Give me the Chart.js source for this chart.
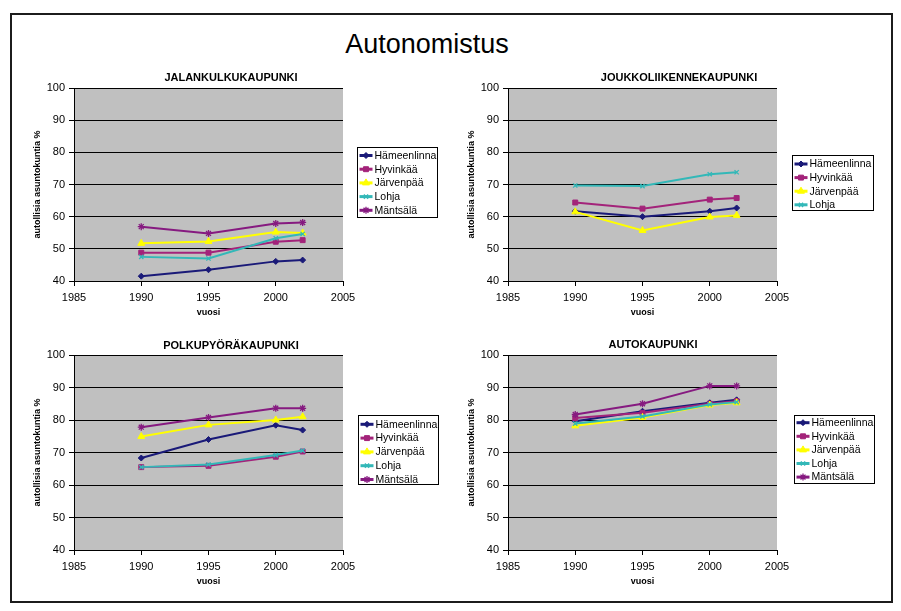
<!DOCTYPE html>
<html>
<head>
<meta charset="utf-8">
<script src="https://cdn.jsdelivr.net/npm/chart.js@4.4.1/dist/chart.umd.min.js"></script>
<style>
  html, body { margin: 0; padding: 0; background: #fff; }
  body { width: 901px; height: 611px; position: relative; overflow: hidden; font-family: "Liberation Sans", Arial, sans-serif; }
  #frame { position: absolute; left: 10px; top: 13px; width: 883px; height: 590px; box-sizing: border-box; border: 2px solid #1c1c1c; }
  #maintitle { position: absolute; left: 0; top: 29px; width: 854px; text-align: center; font-size: 27px; line-height: 30px; color: #000; }
  canvas { position: absolute; left: 0; top: 0; }
</style>
</head>
<body>
<div id="frame"></div>
<div id="maintitle">Autonomistus</div>
<canvas id="c1" width="901" height="611"></canvas>
<canvas id="c2" width="901" height="611"></canvas>
<canvas id="c3" width="901" height="611"></canvas>
<canvas id="c4" width="901" height="611"></canvas>
<script>
// ---------- DATA ----------
const years = [1990, 1995, 2000, 2002];
const cities = ['Hämeenlinna', 'Hyvinkää', 'Järvenpää', 'Lohja', 'Mäntsälä'];
const xTickLabels = [1985, 1990, 1995, 2000, 2005];
const yTickLabels = [40, 50, 60, 70, 80, 90, 100];

const titles = ['JALANKULKUKAUPUNKI', 'JOUKKOLIIKENNEKAUPUNKI', 'POLKUPYÖRÄKAUPUNKI', 'AUTOKAUPUNKI'];
const yAxisTitle = 'autollisia asuntokuntia %';
const xAxisTitle = 'vuosi';

// JALANKULKUKAUPUNKI
const jalHameenlinna = [41.5, 43.5, 46.1, 46.5];
const jalHyvinkaa    = [48.8, 48.8, 52.2, 52.7];
const jalJarvenpaa   = [51.7, 52.3, 55.2, 54.9];
const jalLohja       = [47.5, 47.0, 53.3, 54.6];
const jalMantsala    = [56.9, 54.8, 57.9, 58.2];
// JOUKKOLIIKENNEKAUPUNKI
const jouHameenlinna = [61.7, 60.0, 61.7, 62.7];
const jouHyvinkaa    = [64.4, 62.5, 65.3, 65.8];
const jouJarvenpaa   = [61.5, 55.7, 59.9, 60.4];
const jouLohja       = [69.7, 69.5, 73.2, 73.8];
// POLKUPYÖRÄKAUPUNKI
const polHameenlinna = [68.3, 74.0, 78.4, 76.9];
const polHyvinkaa    = [65.5, 65.9, 68.7, 70.3];
const polJarvenpaa   = [74.9, 78.5, 80.0, 81.0];
const polLohja       = [65.5, 66.3, 69.2, 70.6];
const polMantsala    = [77.8, 80.8, 83.6, 83.6];
// AUTOKAUPUNKI
const autHameenlinna = [79.6, 82.7, 85.3, 86.2];
const autHyvinkaa    = [80.6, 82.2, 85.0, 85.8];
const autJarvenpaa   = [78.2, 80.8, 84.6, 85.3];
const autLohja       = [78.9, 81.1, 84.8, 85.5];
const autMantsala    = [81.7, 85.0, 90.5, 90.5];

// ---------- STYLE ----------
const seriesStyle = [
  { color: '#1a1a78', point: 'rectRot',  radius: 3,   pbw: 1 },
  { color: '#a3237a', point: 'rect',     radius: 3.5, pbw: 1 },
  { color: '#ffff00', point: 'triangle', radius: 4,   pbw: 1 },
  { color: '#33b8b8', point: 'crossRot', radius: 3,   pbw: 1.3 },
  { color: '#861a80', point: 'star',     radius: 3.5, pbw: 1.3 }
];
const FONT = '"Liberation Sans", Arial, sans-serif';

function makeDatasets(seriesList) {
  return seriesList.map((vals, i) => {
    const s = seriesStyle[i];
    return {
      label: cities[i],
      data: years.map((y, k) => ({ x: y, y: vals[k] })),
      borderColor: s.color,
      backgroundColor: s.color,
      borderWidth: 2,
      pointStyle: s.point,
      pointRadius: s.radius,
      pointBorderWidth: s.pbw,
      pointBorderColor: s.color,
      pointBackgroundColor: s.color,
      tension: 0,
      order: -i
    };
  });
}

const panelPlugin = {
  id: 'panelDeco',
  beforeDraw(chart) {
    const a = chart.chartArea, ctx = chart.ctx;
    ctx.save();
    ctx.fillStyle = '#c0c0c0';
    ctx.fillRect(a.left, a.top, a.right - a.left, a.bottom - a.top);
    ctx.restore();
  },
  afterDraw(chart) {
    const o = chart.options.plugins.panelDeco;
    const ctx = chart.ctx;
    ctx.save();
    // panel title
    ctx.font = 'bold 11px ' + FONT;
    ctx.fillStyle = '#000';
    ctx.textAlign = 'center';
    ctx.textBaseline = 'middle';
    ctx.fillText(o.title, o.titleX, o.titleY);
    // legend
    const L = o.legend;
    ctx.fillStyle = '#fff';
    ctx.fillRect(L.x, L.y, L.w, L.h);
    ctx.strokeStyle = '#000';
    ctx.lineWidth = 1;
    ctx.strokeRect(L.x + 0.5, L.y + 0.5, L.w, L.h);
    chart.data.datasets.forEach((ds, i) => {
      const s = seriesStyle[i];
      const yy = L.row0 + i * L.step;
      ctx.strokeStyle = s.color;
      ctx.lineWidth = 3;
      ctx.beginPath();
      ctx.moveTo(L.x + 2.5, yy);
      ctx.lineTo(L.x + 15.5, yy);
      ctx.stroke();
      ctx.fillStyle = s.color;
      ctx.strokeStyle = s.color;
      ctx.lineWidth = s.pbw;
      Chart.helpers.drawPoint(ctx, { pointStyle: s.point, radius: s.radius, borderWidth: s.pbw }, L.x + 9, yy);
      ctx.fillStyle = '#000';
      ctx.font = '10.5px ' + FONT;
      ctx.textAlign = 'left';
      ctx.textBaseline = 'middle';
      ctx.fillText(ds.label, L.x + 17.5, yy + 0.5);
    });
    ctx.restore();
  }
};

function makeChart(id, seriesList, area, deco) {
  const W = 901, H = 611;
  const yW = 50, xH = 38;
  return new Chart(document.getElementById(id), {
    type: 'line',
    data: { datasets: makeDatasets(seriesList) },
    plugins: [panelPlugin],
    options: {
      responsive: false,
      animation: false,
      events: [],
      layout: {
        padding: { left: area.left - yW, right: W - area.right, top: area.top, bottom: H - area.bottom - xH }
      },
      plugins: {
        legend: { display: false },
        title: { display: false },
        tooltip: { enabled: false },
        panelDeco: deco
      },
      scales: {
        x: {
          type: 'linear',
          min: xTickLabels[0],
          max: xTickLabels[xTickLabels.length - 1],
          afterFit(s) { s.height = xH; },
          ticks: {
            stepSize: xTickLabels[1] - xTickLabels[0],
            color: '#000',
            font: { family: FONT, size: 11 },
            padding: 5,
            maxRotation: 0,
            callback: v => String(v)
          },
          grid: { drawOnChartArea: false, drawTicks: true, tickLength: 5, color: '#000', lineWidth: 1 },
          border: { display: true, color: '#000', width: 1 },
          title: { display: true, text: xAxisTitle, color: '#000', font: { family: FONT, size: 9, weight: 'bold' }, padding: { top: 0, bottom: 1 } }
        },
        y: {
          min: yTickLabels[0],
          max: yTickLabels[yTickLabels.length - 1],
          afterFit(s) { s.width = yW; },
          ticks: {
            stepSize: yTickLabels[1] - yTickLabels[0],
            color: '#000',
            font: { family: FONT, size: 11 },
            padding: 4
          },
          grid: { drawOnChartArea: true, drawTicks: true, tickLength: 5, color: '#000', lineWidth: 1 },
          border: { display: true, color: '#000', width: 1 },
          title: { display: true, text: yAxisTitle, color: '#000', font: { family: FONT, size: 9, weight: 'bold' }, padding: { top: 8.5, bottom: 0 } }
        }
      }
    }
  });
}

makeChart('c1', [jalHameenlinna, jalHyvinkaa, jalJarvenpaa, jalLohja, jalMantsala],
  { left: 74, right: 343, top: 88, bottom: 281 },
  { title: titles[0], titleX: 231, titleY: 78, legend: { x: 357, y: 147, w: 80, h: 70, row0: 155.5, step: 13.7 } });

makeChart('c2', [jouHameenlinna, jouHyvinkaa, jouJarvenpaa, jouLohja],
  { left: 508, right: 777, top: 88, bottom: 281 },
  { title: titles[1], titleX: 679, titleY: 78, legend: { x: 792, y: 155, w: 81, h: 55, row0: 164, step: 13.6 } });

makeChart('c3', [polHameenlinna, polHyvinkaa, polJarvenpaa, polLohja, polMantsala],
  { left: 74, right: 343, top: 355, bottom: 550 },
  { title: titles[2], titleX: 231, titleY: 346, legend: { x: 358, y: 415, w: 80, h: 69, row0: 424.3, step: 13.8 } });

makeChart('c4', [autHameenlinna, autHyvinkaa, autJarvenpaa, autLohja, autMantsala],
  { left: 508, right: 777, top: 355, bottom: 550 },
  { title: titles[3], titleX: 653, titleY: 345, legend: { x: 794, y: 415, w: 80, h: 68, row0: 422.7, step: 13.6 } });
</script>
</body>
</html>
